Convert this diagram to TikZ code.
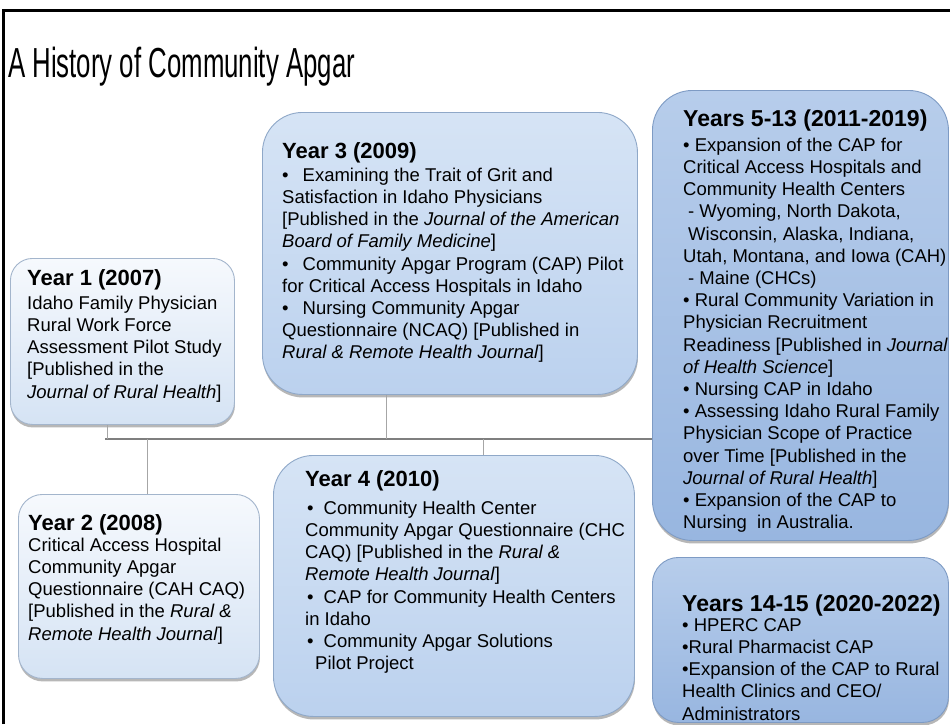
\documentclass[tikz,border=0pt]{standalone}
\usepackage{fontspec}
\setmainfont{Liberation Sans}
\usetikzlibrary{shadows,calc}
\definecolor{lightTop}{HTML}{F6F9FD}
\definecolor{lightBot}{HTML}{D5E3F4}
\definecolor{lightEdge}{HTML}{A3B5CC}
\definecolor{midTop}{HTML}{D6E4F5}
\definecolor{midBot}{HTML}{BBD1EE}
\definecolor{midEdge}{HTML}{8FA8C8}
\definecolor{darkTop}{HTML}{B7CDEB}
\definecolor{darkBot}{HTML}{98B6E0}
\definecolor{darkEdge}{HTML}{7E9BC4}
\definecolor{lineGray}{HTML}{7F7F7F}
\definecolor{tickGray}{HTML}{A6A6A6}
\begin{document}
\begin{tikzpicture}[x=1pt,y=-1pt,
  boxbase/.style={rounded corners=#1, line width=0.9pt, anchor=north west, inner sep=0pt,
    drop shadow={shadow xshift=0.5pt, shadow yshift=-3pt, opacity=0.4, fill=black!70}},
  lightbox/.style={boxbase=#1, draw=lightEdge, top color=lightTop, bottom color=lightBot},
  midbox/.style={boxbase=#1, draw=midEdge, top color=midTop, bottom color=midBot},
  darkbox/.style={boxbase=#1, draw=darkEdge, top color=darkTop, bottom color=darkBot},
  hdr/.style={anchor=base west, inner sep=0pt, font=\fontsize{22}{26}\selectfont\bfseries},
  hdrbig/.style={anchor=base west, inner sep=0pt, font=\fontsize{23}{27}\selectfont\bfseries},
  body/.style={anchor=north west, inner sep=0pt, align=left, font=\fontsize{18.5}{22.2}\selectfont},
  mainline/.style={draw=lineGray, line width=2.2pt},
  tickline/.style={draw=tickGray, line width=1pt}]
\useasboundingbox (0,0) rectangle (950,724);
\fill[white] (0,0) rectangle (950,724);
% frame
\draw[line width=3pt] (3.5,724) -- (3.5,10) -- (950,10);
% title
\node[anchor=base west, inner sep=0pt, font=\fontsize{42}{50}\selectfont] (title) at (8,77)
  {\scalebox{0.614}[1]{A History of Community Apgar}};
% timeline coordinates
\coordinate (tl) at (105,439);
\coordinate (t1) at (107,439);
\coordinate (t2) at (147,439);
\coordinate (t3) at (386,439);
\coordinate (t4) at (483,439);
% boxes
\node[lightbox=22, minimum width=224, minimum height=166] (y1) at (10,258) {};
\node[lightbox=24, minimum width=241, minimum height=184] (y2) at (18,494) {};
\node[midbox=40, minimum width=375, minimum height=282] (y3) at (262,112) {};
\node[midbox=40, minimum width=361, minimum height=261] (y4) at (273,455) {};
\node[darkbox=40, minimum width=296, minimum height=450] (y5) at (652,90) {};
\node[darkbox=26, minimum width=296, minimum height=165] (y14) at (652,557) {};
% connectors
\draw[mainline] (tl) -- (tl -| y5.west);
\draw[tickline] (y1.south -| t1) -- (t1);
\draw[tickline] (t2) -- (t2 |- y2.north);
\draw[tickline] (y3.south -| t3) -- (t3);
\draw[tickline] (t4) -- (t4 |- y4.north);
% texts
\node[hdr] (h1) at (27,285) {Year 1 (2007)};
\node[body] (b1) at (27,294) {\rule{0pt}{15pt}Idaho Family Physician\\Rural Work Force\\Assessment Pilot Study\\{[}Published in the\\\textit{Journal of Rural Health}]};
\node[hdr] (h2) at (28,530) {Year 2 (2008)};
\node[body] (b2) at (28,536) {\rule{0pt}{15pt}Critical Access Hospital\\Community Apgar\\Questionnaire (CAH CAQ)\\{[}Published in the \textit{Rural \&}\\\textit{Remote Health Journal}]};
\node[hdr] (h3) at (282,158) {Year 3 (2009)};
\node[body] (b3) at (282,166) {\rule{0pt}{15pt}•\hspace{14pt}Examining the Trait of Grit and\\Satisfaction in Idaho Physicians\\{[}Published in the \textit{Journal of the American}\\\textit{Board of Family Medicine}]\\•\hspace{14pt}Community Apgar Program (CAP) Pilot\\for Critical Access Hospitals in Idaho\\•\hspace{14pt}Nursing Community Apgar\\Questionnaire (NCAQ) [Published in\\\textit{Rural \& Remote Health Journal}]};
\node[hdr] (h4) at (305,486) {Year 4 (2010)};
\node[body] (b4) at (305,499) {\rule{0pt}{15pt}\hspace{2pt}•\hspace{10pt}Community Health Center\\Community Apgar Questionnaire (CHC\\CAQ) [Published in the \textit{Rural \&}\\\textit{Remote Health Journal}]\\\hspace{2pt}•\hspace{10pt}CAP for Community Health Centers\\in Idaho\\\hspace{2pt}•\hspace{10pt}Community Apgar Solutions\\\hspace{10pt}Pilot Project};
\node[hdrbig] (h5) at (683,126) {Years 5-13 (2011-2019)};
\node[body] (b5) at (683,136) {\rule{0pt}{15pt}• Expansion of the CAP for\\Critical Access Hospitals and\\Community Health Centers\\\hspace{5pt}- Wyoming, North Dakota,\\\hspace{5pt}Wisconsin, Alaska, Indiana,\\Utah, Montana, and Iowa (CAH)\\\hspace{5pt}- Maine (CHCs)\\• Rural Community Variation in\\Physician Recruitment\\Readiness [Published in \textit{Journal}\\\textit{of Health Science}]\\• Nursing CAP in Idaho\\• Assessing Idaho Rural Family\\Physician Scope of Practice\\over Time [Published in the\\\textit{Journal of Rural Health}]\\• Expansion of the CAP to\\Nursing\ \ in Australia.};
\node[hdrbig] (h14) at (682,611) {Years 14-15 (2020-2022)};
\node[body] (b14) at (682,616) {\rule{0pt}{15pt}• HPERC CAP\\•Rural Pharmacist CAP\\•Expansion of the CAP to Rural\\Health Clinics and CEO/\\Administrators};
\end{tikzpicture}
\end{document}
